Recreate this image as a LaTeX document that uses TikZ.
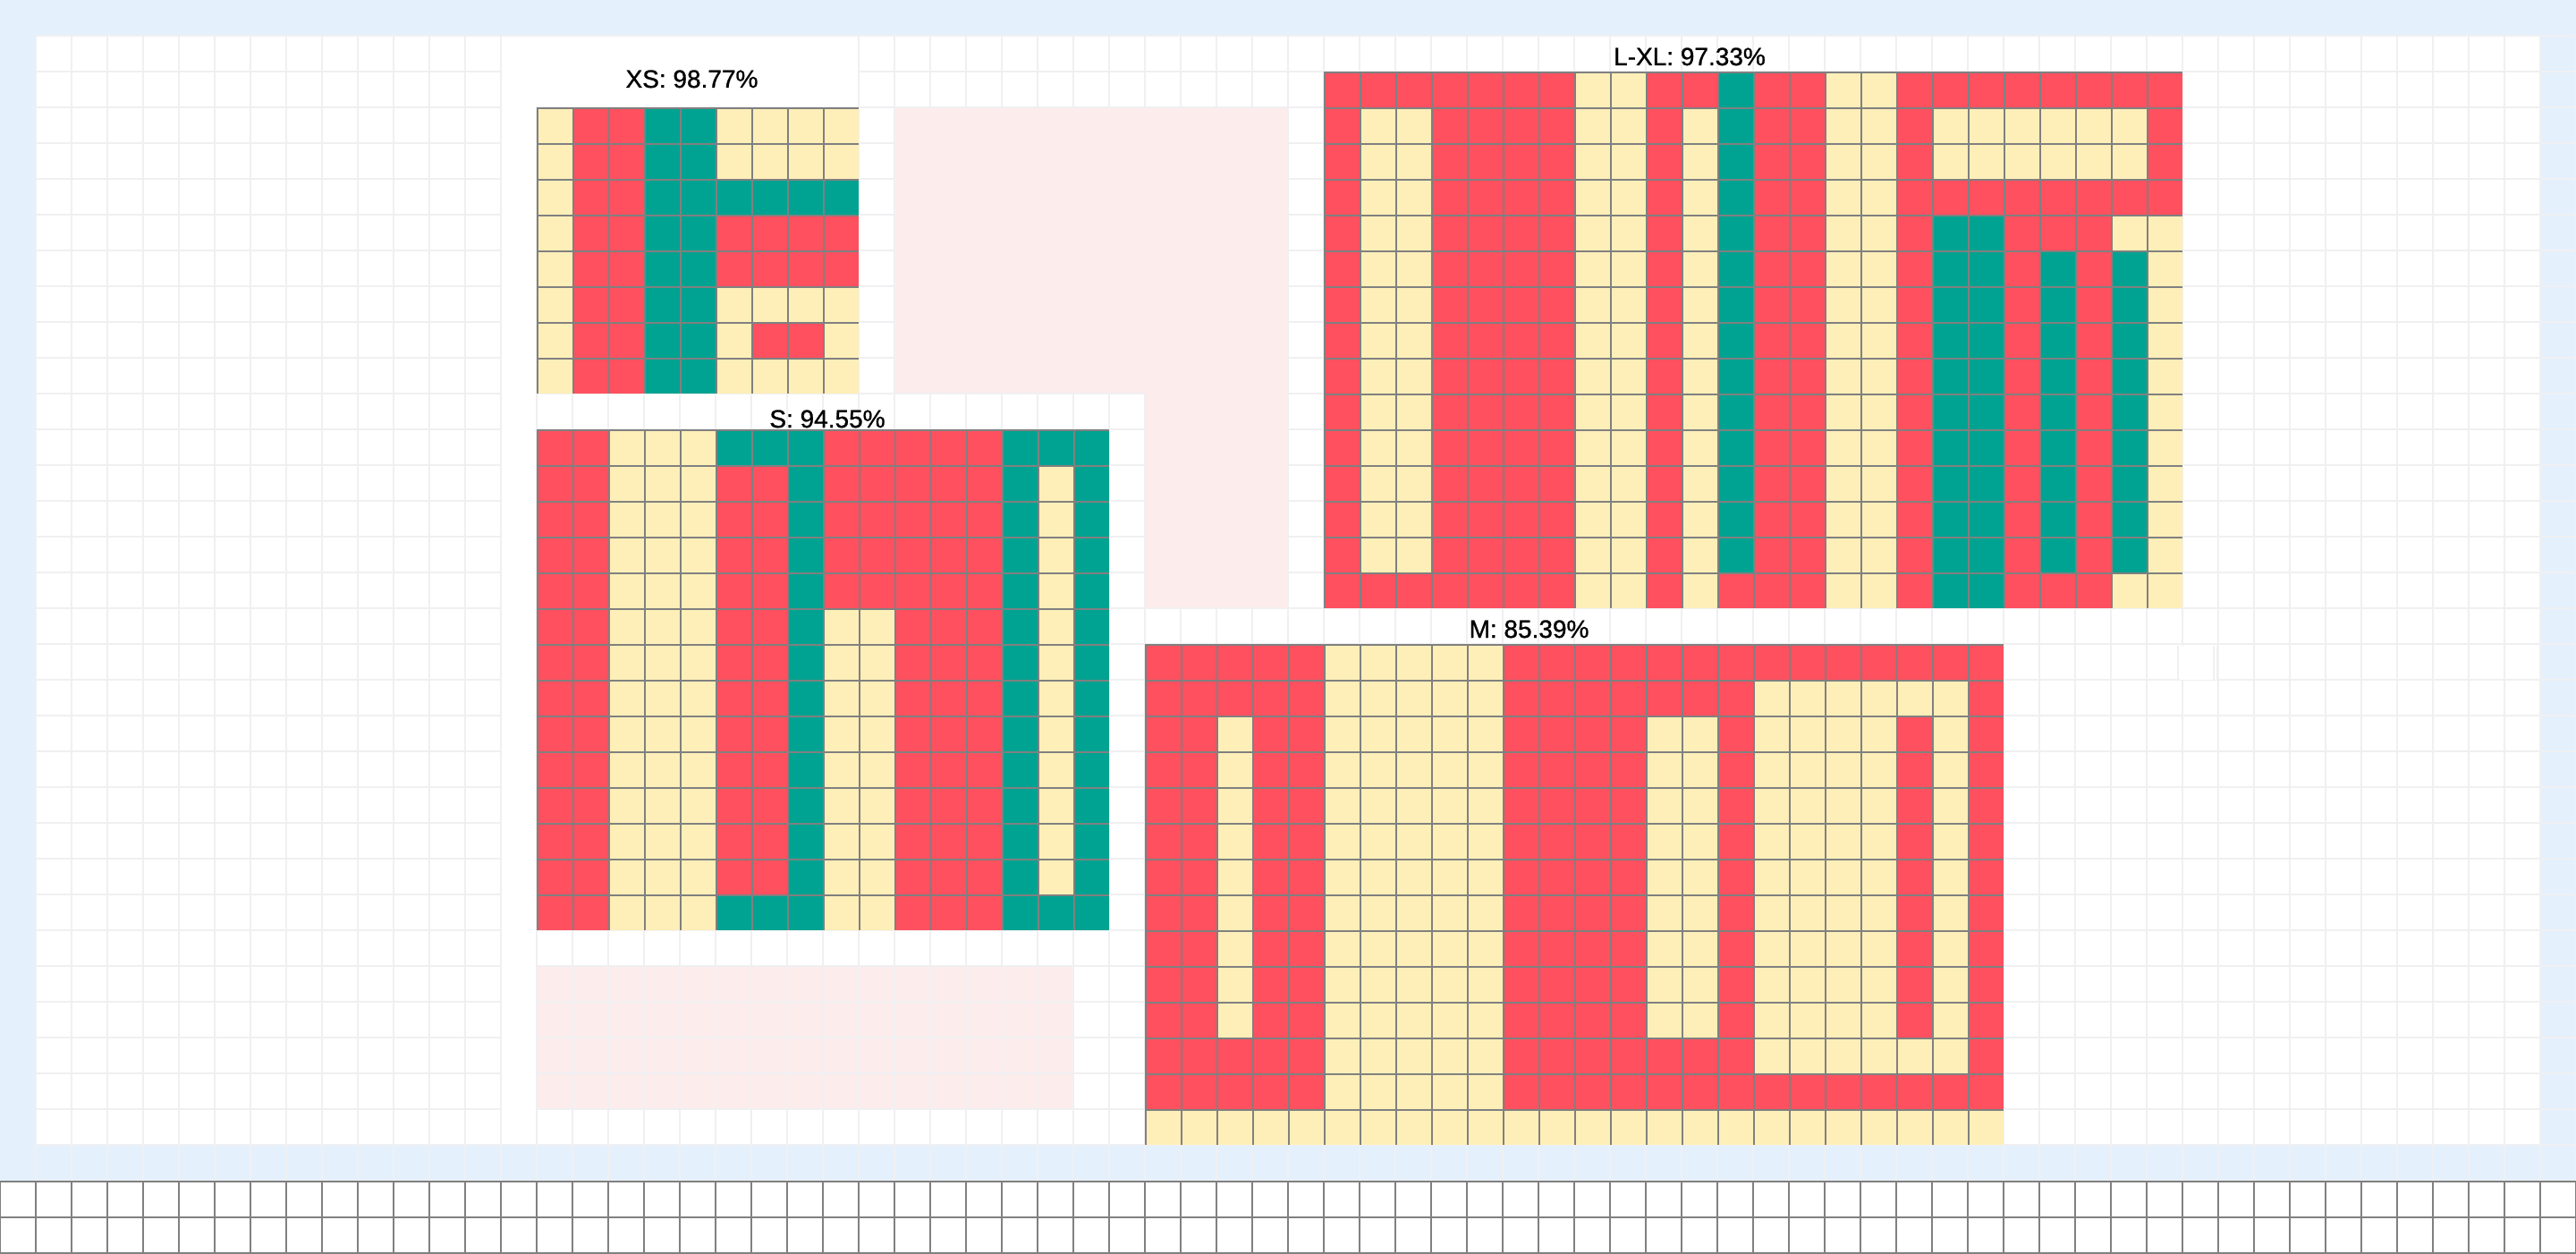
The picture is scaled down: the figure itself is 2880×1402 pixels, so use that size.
\documentclass[tikz,border=0pt]{standalone}
\usepackage{fontspec}
\setmainfont{Liberation Sans}
\newfontfamily\titlefont[FakeBold=1]{Liberation Sans}
\definecolor{cR}{HTML}{FF505F}
\definecolor{cY}{HTML}{FEEFB8}
\definecolor{cT}{HTML}{00A391}
\definecolor{frameblue}{HTML}{E4F0FC}
\definecolor{softpink}{HTML}{FDECEC}
\definecolor{bggrid}{HTML}{F0F0F2}
\definecolor{edgegrey}{HTML}{808080}
\tikzset{
  bgline/.style={draw=bggrid, line width=2pt},
  celledge/.style={draw=edgegrey, line width=2pt},
  footline/.style={draw=edgegrey, line width=2.5pt},
  charttitle/.style={font=\titlefont\fontsize{28}{34}\selectfont, inner sep=0pt, text=black, anchor=base},
}
% #1 x0, #2 y0, #3 cols, #4 rows, #5 rows of colour letters
\newcommand{\heatgrid}[5]{%
  \foreach \hrow [count=\hj from 0] in {#5} {%
    \foreach \hc [count=\hi from 0] in \hrow {%
      \fill[fill=c\hc] ({#1+40*\hi},{#2+40*\hj}) rectangle ++(40,40);
    }%
  }%
  \foreach \hi in {1,...,#3} {\draw[celledge] ({#1+40*(\hi-1)+1},#2) -- ++(0,{40*#4});}%
  \foreach \hj in {1,...,#4} {\draw[celledge] (#1,{#2+40*(\hj-1)+1}) -- ++({40*#3},0);}%
}
\begin{document}
\begin{tikzpicture}[x=1pt,y=-1pt]
\useasboundingbox (0,0) rectangle (2880,1402);
\fill[white] (0,0) rectangle (2880,1402);
% frame
\fill[frameblue] (0,0) rectangle (2880,1321);
\fill[white] (40,40) rectangle (2840,1280);
% lower pink block (grid shows through)
\fill[softpink] (600,1080) rectangle (1200,1240);
% background grid
\foreach \gx in {40,80,...,2880} {\draw[bgline] (\gx,40) -- (\gx,1320);}
\foreach \gy in {40,80,...,1320} {\draw[bgline] (40,\gy) -- (2880,\gy);}
% plain white patches
\fill[white] (561,41) rectangle (959,119);
\fill[white] (561,41) rectangle (599,1279);
% upper pink block
\fill[softpink] (1001,121) -- (1439,121) -- (1439,679) -- (1281,679) -- (1281,439) -- (1001,439) -- cycle;
% stray shifted cell
\fill[white] (2437,722) rectangle (2479,760);
\draw[bgline] (2435,722) -- (2435,760);
\draw[bgline] (2475,722) -- (2475,760);
\draw[draw=bggrid, line width=1pt] (2478,722) -- (2478,760);

% XS
\heatgrid{600}{120}{9}{8}{%
{Y,R,R,T,T,Y,Y,Y,Y},{Y,R,R,T,T,Y,Y,Y,Y},{Y,R,R,T,T,T,T,T,T},{Y,R,R,T,T,R,R,R,R},%
{Y,R,R,T,T,R,R,R,R},{Y,R,R,T,T,Y,Y,Y,Y},{Y,R,R,T,T,Y,R,R,Y},{Y,R,R,T,T,Y,Y,Y,Y}}
% S
\heatgrid{600}{480}{16}{14}{%
{R,R,Y,Y,Y,T,T,T,R,R,R,R,R,T,T,T},%
{R,R,Y,Y,Y,R,R,T,R,R,R,R,R,T,Y,T},{R,R,Y,Y,Y,R,R,T,R,R,R,R,R,T,Y,T},%
{R,R,Y,Y,Y,R,R,T,R,R,R,R,R,T,Y,T},{R,R,Y,Y,Y,R,R,T,R,R,R,R,R,T,Y,T},%
{R,R,Y,Y,Y,R,R,T,Y,Y,R,R,R,T,Y,T},{R,R,Y,Y,Y,R,R,T,Y,Y,R,R,R,T,Y,T},%
{R,R,Y,Y,Y,R,R,T,Y,Y,R,R,R,T,Y,T},{R,R,Y,Y,Y,R,R,T,Y,Y,R,R,R,T,Y,T},%
{R,R,Y,Y,Y,R,R,T,Y,Y,R,R,R,T,Y,T},{R,R,Y,Y,Y,R,R,T,Y,Y,R,R,R,T,Y,T},%
{R,R,Y,Y,Y,R,R,T,Y,Y,R,R,R,T,Y,T},{R,R,Y,Y,Y,R,R,T,Y,Y,R,R,R,T,Y,T},%
{R,R,Y,Y,Y,T,T,T,Y,Y,R,R,R,T,T,T}}
% L-XL
\heatgrid{1480}{80}{24}{15}{%
{R,R,R,R,R,R,R,Y,Y,R,R,T,R,R,Y,Y,R,R,R,R,R,R,R,R},%
{R,Y,Y,R,R,R,R,Y,Y,R,Y,T,R,R,Y,Y,R,Y,Y,Y,Y,Y,Y,R},%
{R,Y,Y,R,R,R,R,Y,Y,R,Y,T,R,R,Y,Y,R,Y,Y,Y,Y,Y,Y,R},%
{R,Y,Y,R,R,R,R,Y,Y,R,Y,T,R,R,Y,Y,R,R,R,R,R,R,R,R},%
{R,Y,Y,R,R,R,R,Y,Y,R,Y,T,R,R,Y,Y,R,T,T,R,R,R,Y,Y},%
{R,Y,Y,R,R,R,R,Y,Y,R,Y,T,R,R,Y,Y,R,T,T,R,T,R,T,Y},%
{R,Y,Y,R,R,R,R,Y,Y,R,Y,T,R,R,Y,Y,R,T,T,R,T,R,T,Y},%
{R,Y,Y,R,R,R,R,Y,Y,R,Y,T,R,R,Y,Y,R,T,T,R,T,R,T,Y},%
{R,Y,Y,R,R,R,R,Y,Y,R,Y,T,R,R,Y,Y,R,T,T,R,T,R,T,Y},%
{R,Y,Y,R,R,R,R,Y,Y,R,Y,T,R,R,Y,Y,R,T,T,R,T,R,T,Y},%
{R,Y,Y,R,R,R,R,Y,Y,R,Y,T,R,R,Y,Y,R,T,T,R,T,R,T,Y},%
{R,Y,Y,R,R,R,R,Y,Y,R,Y,T,R,R,Y,Y,R,T,T,R,T,R,T,Y},%
{R,Y,Y,R,R,R,R,Y,Y,R,Y,T,R,R,Y,Y,R,T,T,R,T,R,T,Y},%
{R,Y,Y,R,R,R,R,Y,Y,R,Y,T,R,R,Y,Y,R,T,T,R,T,R,T,Y},%
{R,R,R,R,R,R,R,Y,Y,R,Y,R,R,R,Y,Y,R,T,T,R,R,R,Y,Y}}
% M
\heatgrid{1280}{720}{24}{14}{%
{R,R,R,R,R,Y,Y,Y,Y,Y,R,R,R,R,R,R,R,R,R,R,R,R,R,R},%
{R,R,R,R,R,Y,Y,Y,Y,Y,R,R,R,R,R,R,R,Y,Y,Y,Y,Y,Y,R},%
{R,R,Y,R,R,Y,Y,Y,Y,Y,R,R,R,R,Y,Y,R,Y,Y,Y,Y,R,Y,R},%
{R,R,Y,R,R,Y,Y,Y,Y,Y,R,R,R,R,Y,Y,R,Y,Y,Y,Y,R,Y,R},%
{R,R,Y,R,R,Y,Y,Y,Y,Y,R,R,R,R,Y,Y,R,Y,Y,Y,Y,R,Y,R},%
{R,R,Y,R,R,Y,Y,Y,Y,Y,R,R,R,R,Y,Y,R,Y,Y,Y,Y,R,Y,R},%
{R,R,Y,R,R,Y,Y,Y,Y,Y,R,R,R,R,Y,Y,R,Y,Y,Y,Y,R,Y,R},%
{R,R,Y,R,R,Y,Y,Y,Y,Y,R,R,R,R,Y,Y,R,Y,Y,Y,Y,R,Y,R},%
{R,R,Y,R,R,Y,Y,Y,Y,Y,R,R,R,R,Y,Y,R,Y,Y,Y,Y,R,Y,R},%
{R,R,Y,R,R,Y,Y,Y,Y,Y,R,R,R,R,Y,Y,R,Y,Y,Y,Y,R,Y,R},%
{R,R,Y,R,R,Y,Y,Y,Y,Y,R,R,R,R,Y,Y,R,Y,Y,Y,Y,R,Y,R},%
{R,R,R,R,R,Y,Y,Y,Y,Y,R,R,R,R,R,R,R,Y,Y,Y,Y,Y,Y,R},%
{R,R,R,R,R,Y,Y,Y,Y,Y,R,R,R,R,R,R,R,R,R,R,R,R,R,R},%
{Y,Y,Y,Y,Y,Y,Y,Y,Y,Y,Y,Y,Y,Y,Y,Y,Y,Y,Y,Y,Y,Y,Y,Y}}

% titles
\node[charttitle] (titleXS) at (773.5,98) {XS: 98.77\%};
\node[charttitle] (titleS) at (925,478) {S: 94.55\%};
\node[charttitle] (titleLXL) at (1889,73) {L-XL: 97.33\%};
\node[charttitle] (titleM) at (1709.5,713) {M: 85.39\%};

% bottom grid strip
\foreach \gx in {0,40,...,2880} {\draw[footline] (\gx,1321) -- (\gx,1402);}
\foreach \gy in {1321,1361,1401} {\draw[footline] (0,\gy) -- (2880,\gy);}
\end{tikzpicture}
\end{document}
